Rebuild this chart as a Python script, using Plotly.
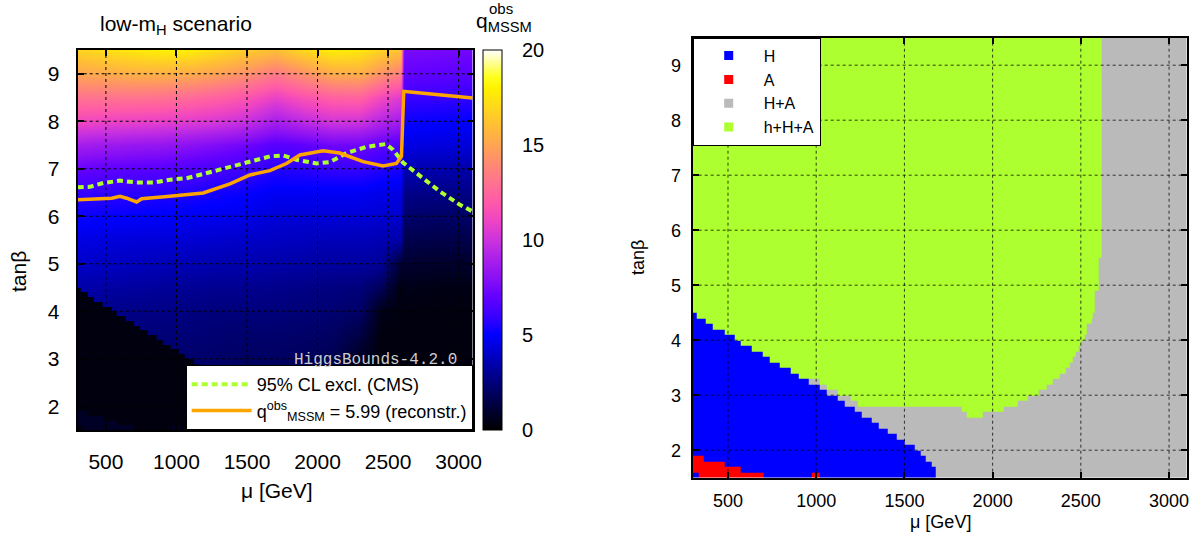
import bisect
import numpy as np
import plotly.graph_objects as go

# ---------------- left panel: q_obs field ----------------
mu_nodes = [300, 500, 700, 900, 1100, 1300, 1500, 1700, 1900, 2100, 2300, 2450, 2590, 2610, 2850, 3100]
tb_nodes = [1.5, 2.0, 2.5, 3.0, 3.5, 4.0, 4.5, 5.0, 5.5, 6.0, 6.5, 7.0, 7.5, 8.0, 8.5, 9.0, 9.5]

q_tb_1p5 = [1.7, 1.7, 1.6, 1.6, 1.6, 1.5, 1.4, 1.2, 1.0, 0.7, 0.4, 0.3, 0.3, 0.3, 0.3, 0.3]
q_tb_2p0 = [1.9, 1.9, 1.8, 1.8, 1.8, 1.7, 1.6, 1.5, 1.2, 0.9, 0.4, 0.3, 0.3, 0.3, 0.3, 0.3]
q_tb_2p5 = [2.1, 2.1, 2.0, 2.0, 2.0, 1.9, 1.8, 1.7, 1.5, 1.2, 0.5, 0.3, 0.3, 0.3, 0.3, 0.3]
q_tb_3p0 = [2.3, 2.3, 2.2, 2.2, 2.2, 2.1, 2.0, 2.0, 1.9, 1.7, 0.7, 0.3, 0.3, 0.3, 0.3, 0.3]
q_tb_3p5 = [2.6, 2.5, 2.5, 2.4, 2.4, 2.3, 2.2, 2.2, 2.1, 2.0, 1.4, 0.3, 0.3, 0.3, 0.3, 0.3]
q_tb_4p0 = [2.9, 2.8, 2.7, 2.7, 2.6, 2.5, 2.5, 2.5, 2.4, 2.3, 2.1, 0.5, 0.3, 0.3, 0.3, 0.3]
q_tb_4p5 = [3.4, 3.3, 3.2, 3.1, 3.0, 2.9, 2.9, 2.8, 2.7, 2.6, 2.5, 1.8, 0.3, 0.5, 0.4, 0.4]
q_tb_5p0 = [4.0, 3.9, 3.8, 3.7, 3.6, 3.5, 3.5, 3.4, 3.3, 3.2, 3.2, 3.1, 1.0, 1.0, 0.9, 0.9]
q_tb_5p5 = [4.5, 4.4, 4.3, 4.3, 4.2, 4.1, 4.0, 3.9, 3.8, 3.7, 3.7, 3.6, 3.4, 1.6, 1.5, 1.5]
q_tb_6p0 = [5.2, 5.1, 5.0, 4.9, 4.8, 4.7, 4.6, 4.3, 4.3, 4.3, 4.3, 4.2, 4.1, 2.2, 2.1, 2.1]
q_tb_6p5 = [5.9, 5.8, 5.7, 5.6, 5.5, 5.3, 5.1, 4.8, 4.8, 4.8, 4.8, 4.6, 4.5, 2.8, 2.7, 2.7]
q_tb_7p0 = [7.1, 6.9, 6.8, 6.7, 6.5, 6.3, 6.1, 5.6, 5.7, 5.9, 5.9, 5.6, 5.4, 3.6, 3.5, 3.4]
q_tb_7p5 = [8.8, 8.6, 8.4, 8.3, 8.0, 7.7, 7.3, 6.7, 6.9, 7.3, 7.3, 6.9, 6.5, 4.5, 4.4, 4.3]
q_tb_8p0 = [11.2, 11.0, 10.9, 10.8, 10.6, 10.3, 9.9, 8.9, 9.6, 10.2, 10.1, 9.3, 8.8, 5.2, 5.1, 5.0]
q_tb_8p5 = [13.0, 13.0, 13.0, 12.9, 12.6, 12.2, 11.7, 10.8, 11.6, 12.2, 12.3, 11.2, 10.5, 6.0, 5.9, 5.8]
q_tb_9p0 = [15.0, 15.2, 15.4, 15.4, 15.2, 14.8, 14.2, 13.3, 14.2, 15.2, 15.3, 14.3, 13.5, 7.0, 6.9, 6.8]
q_tb_9p5 = [16.8, 17.2, 17.6, 17.9, 17.8, 17.2, 16.5, 16.0, 17.0, 17.8, 17.6, 16.8, 16.2, 7.6, 7.5, 7.4]

# 95% CL exclusion (CMS) and reconstructed q = 5.99 contour
cms_mu = [300, 387, 481, 600, 718, 836, 954, 1072, 1190, 1308, 1426, 1544, 1662, 1756, 1851,
          1993, 2087, 2205, 2347, 2484, 2535, 2606, 2726, 2868, 3010, 3100]
cms_tb = [6.61, 6.62, 6.70, 6.75, 6.71, 6.71, 6.77, 6.80, 6.89, 6.98, 7.06, 7.17, 7.26, 7.28, 7.19,
          7.11, 7.14, 7.33, 7.46, 7.52, 7.40, 7.13, 6.84, 6.52, 6.24, 6.10]
rec_mu = [300, 481, 541, 600, 647, 718, 753, 954, 1190, 1379, 1521, 1662, 1733, 1780, 1875, 2040,
          2158, 2323, 2464, 2559, 2595, 2611, 2677, 2868, 3100]
rec_tb = [6.35, 6.36, 6.38, 6.42, 6.38, 6.30, 6.37, 6.42, 6.49, 6.68, 6.87, 6.96, 7.05, 7.11, 7.29, 7.38,
          7.33, 7.15, 7.06, 7.11, 7.26, 8.63, 8.61, 8.56, 8.49]

# ---------------- right panel: region boundaries ----------------
h_mu_start = [300, 321, 374, 412, 479, 538, 574, 637, 696, 738, 795, 858, 900, 959, 1018,
              1058, 1121, 1159, 1216, 1258, 1317, 1357, 1405, 1458, 1500, 1557, 1595, 1620, 1654, 1679]
h_tb_top = [4.5, 4.4, 4.3, 4.2, 4.1, 4.0, 3.9, 3.8, 3.7, 3.6, 3.5, 3.4, 3.3, 3.2, 3.1,
            3.0, 2.9, 2.8, 2.7, 2.6, 2.5, 2.4, 2.3, 2.2, 2.1, 2.0, 1.9, 1.8, 1.7, 1.5]
green_mu_start = [959, 1018, 1058, 1121, 1195, 1237, 1826, 1853, 1942, 2064, 2142, 2199, 2262, 2304,
                  2342, 2380, 2416, 2437, 2453, 2473, 2490, 2500, 2521, 2536, 2559, 2570, 2580, 2603, 2618]
green_tb_bottom = [3.3, 3.2, 3.1, 3.0, 2.9, 2.8, 2.7, 2.6, 2.7, 2.8, 2.9, 3.0, 3.1, 3.2,
                   3.3, 3.4, 3.5, 3.6, 3.7, 3.8, 3.9, 4.0, 4.1, 4.3, 4.4, 4.5, 4.9, 5.5, 9.5]
a_mu_lo = [300, 332, 363, 479, 574, 974]
a_mu_hi = [332, 363, 479, 574, 700, 1020]
a_tb_lo = [1.6, 1.5, 1.5, 1.5, 1.5, 1.5]
a_tb_hi = [1.9, 1.9, 1.8, 1.7, 1.6, 1.6]

region_names = ["H", "A", "H+A", "h+H+A"]
region_colors = ["#0000ff", "#ff0000", "#bababa", "#adff2f"]

x_ticks = [500, 1000, 1500, 2000, 2500, 3000]
y_ticks = [2, 3, 4, 5, 6, 7, 8, 9]
cbar_ticks = [0, 5, 10, 15, 20]
mu_range = [300, 3100]
tb_range = [1.5, 9.5]

# ---------------- build region table ----------------
def step_at(starts, values, x):
    i = bisect.bisect_right(starts, x) - 1
    return values[max(i, 0)]

def green_bottom_at(x):
    if x < green_mu_start[0]:
        return step_at(h_mu_start, h_tb_top, x)
    return step_at(green_mu_start, green_tb_bottom, x)

x_edges = sorted(set([mu_range[0], mu_range[1]] + h_mu_start + green_mu_start + a_mu_lo + a_mu_hi))
y_edges = sorted(set([v for v in [tb_range[0], tb_range[1]] + h_tb_top + green_tb_bottom + a_tb_lo + a_tb_hi
                      if tb_range[0] <= v <= tb_range[1]]))
xc = [(a + b) / 2 for a, b in zip(x_edges[:-1], x_edges[1:])]
yc = [(a + b) / 2 for a, b in zip(y_edges[:-1], y_edges[1:])]

region = []
for y in yc:
    row = []
    for x in xc:
        in_a = any(lo <= x < hi and tl <= y < th for lo, hi, tl, th in zip(a_mu_lo, a_mu_hi, a_tb_lo, a_tb_hi))
        if in_a:
            row.append(1)
        elif y < step_at(h_mu_start, h_tb_top, x):
            row.append(0)
        elif y > green_bottom_at(x):
            row.append(3)
        else:
            row.append(2)
    region.append(row)

# black low-q corner of the left panel coincides with the H / A regions
low_q = [[0.3 if c == 0 else (0.8 if c == 1 else None) for c in row] for row in region]

q_field = [q_tb_1p5, q_tb_2p0, q_tb_2p5, q_tb_3p0, q_tb_3p5, q_tb_4p0, q_tb_4p5, q_tb_5p0, q_tb_5p5,
           q_tb_6p0, q_tb_6p5, q_tb_7p0, q_tb_7p5, q_tb_8p0, q_tb_8p5, q_tb_9p0, q_tb_9p5]

q_colors = [
    [0.00, "#000000"], [0.05, "#000030"], [0.10, "#000062"], [0.15, "#000094"],
    [0.20, "#0000c8"], [0.25, "#0000ff"], [0.30, "#3a00ff"], [0.35, "#6200ff"],
    [0.40, "#8a10f4"], [0.45, "#aa20ea"], [0.50, "#cc33dd"], [0.55, "#ee44c4"],
    [0.60, "#ff5aa8"], [0.65, "#ff7290"], [0.70, "#ff8a72"], [0.75, "#ffa552"],
    [0.80, "#ffbe36"], [0.85, "#ffd81c"], [0.90, "#fff200"], [0.93, "#ffff20"],
    [1.00, "#ffffff"],
]
region_scale = []
for k, c in enumerate(region_colors):
    region_scale += [[k / 4, c], [(k + 1) / 4, c]]

FONT = "Liberation Sans, Arial, sans-serif"
W, H = 1203, 539

def grid_xy(xt, yt):
    gx, gy = [], []
    for t in xt:
        gx += [t, t, None]
        gy += [tb_range[0], tb_range[1], None]
    for t in yt:
        gx += [mu_range[0], mu_range[1], None]
        gy += [t, t, None]
    return gx, gy

fig = go.Figure()

# left panel
fig.add_trace(go.Heatmap(
    x=mu_nodes, y=tb_nodes, z=q_field, zmin=0, zmax=20, zsmooth="best",
    colorscale=q_colors, xaxis="x", yaxis="y", hoverinfo="skip",
    colorbar=dict(
        x=482.7 / W, xanchor="left", xpad=0, y=1 - 240 / H, yanchor="middle",
        len=380 / H, lenmode="fraction", ypad=0, thickness=19, thicknessmode="pixels",
        outlinewidth=1, outlinecolor="black",
        tickvals=cbar_ticks, ticks="outside", ticklen=16, tickcolor="rgba(0,0,0,0)",
        tickfont=dict(family=FONT, size=20, color="black"),
    ),
))
fig.add_trace(go.Heatmap(
    x=x_edges, y=y_edges, z=low_q, zmin=0, zmax=20, colorscale=q_colors,
    showscale=False, xaxis="x", yaxis="y", hoverinfo="skip",
))
gx, gy = grid_xy(x_ticks, y_ticks)
fig.add_trace(go.Scatter(x=gx, y=gy, mode="lines", xaxis="x", yaxis="y", showlegend=False,
                         hoverinfo="skip", line=dict(color="black", width=1, dash="dot")))
fig.add_trace(go.Scatter(x=cms_mu, y=cms_tb, mode="lines", xaxis="x", yaxis="y",
                         name="95% CL excl. (CMS)", legend="legend",
                         line=dict(color="#adff2f", width=4, dash="6px,4px")))
fig.add_trace(go.Scatter(x=rec_mu, y=rec_tb, mode="lines", xaxis="x", yaxis="y",
                         name="q<sup>obs</sup><sub>MSSM</sub> = 5.99 (reconstr.)", legend="legend",
                         line=dict(color="#ffa500", width=3.5)))

# right panel
fig.add_trace(go.Heatmap(
    x=x_edges, y=y_edges, z=region, zmin=-0.5, zmax=3.5, colorscale=region_scale,
    showscale=False, xaxis="x2", yaxis="y2", hoverinfo="skip",
))
gx2, gy2 = grid_xy(x_ticks, y_ticks)
fig.add_trace(go.Scatter(x=gx2, y=gy2, mode="lines", xaxis="x2", yaxis="y2", showlegend=False,
                         hoverinfo="skip", line=dict(color="rgba(0,0,0,0.75)", width=1, dash="dot")))
for name, col in zip(region_names, region_colors):
    fig.add_trace(go.Scatter(x=[None], y=[None], mode="markers", name=name, legend="legend2",
                             xaxis="x2", yaxis="y2",
                             marker=dict(symbol="square", size=9, color=col)))

axis_common = dict(
    showgrid=False, zeroline=False, showline=True, linecolor="black", linewidth=2,
    mirror="ticks", ticks="inside", ticklen=6, tickwidth=1.5, tickcolor="black",
    layer="above traces", automargin=False,
)

fig.update_layout(
    template="none",
    width=W, height=H, margin=dict(l=0, r=0, t=0, b=0, pad=0), autosize=False,
    paper_bgcolor="white", plot_bgcolor="white",
    font=dict(family=FONT, color="black"),
    xaxis=dict(domain=[77.7 / W, 472.7 / W], range=mu_range, anchor="y", tickvals=x_ticks,
               tickfont=dict(size=21), ticklabelstandoff=12, **axis_common),
    yaxis=dict(domain=[1 - 430 / H, 1 - 50 / H], range=tb_range, anchor="x", tickvals=y_ticks,
               tickfont=dict(size=21), ticklabelstandoff=12, **axis_common),
    xaxis2=dict(domain=[692.7 / W, 1186.7 / W], range=mu_range, anchor="y2", tickvals=x_ticks,
                tickfont=dict(size=18), ticklabelstandoff=6, **axis_common),
    yaxis2=dict(domain=[1 - 477.7 / H, 1 - 37.7 / H], range=tb_range, anchor="x2", tickvals=y_ticks,
                tickfont=dict(size=18), ticklabelstandoff=6, **axis_common),
    legend=dict(x=472.7 / W, xanchor="right", y=1 - 430 / H, yanchor="bottom",
                bgcolor="white", bordercolor="black", borderwidth=1,
                font=dict(family=FONT, size=18), itemwidth=60, tracegroupgap=0),
    legend2=dict(x=692.7 / W, xanchor="left", y=1 - 37.7 / H, yanchor="top",
                 bgcolor="white", bordercolor="black", borderwidth=1,
                 font=dict(family=FONT, size=16), itemwidth=60, tracegroupgap=0),
)

ann = [
    dict(text="low-m<sub>H</sub> scenario", x=176 / W, y=1 - 25 / H, font=dict(size=21)),
    dict(text="q<sub>MSSM</sub>", x=474 / W, y=1 - 22 / H, xanchor="left", font=dict(size=21)),
    dict(text="obs", x=487 / W, y=1 - 8 / H, xanchor="left", font=dict(size=15)),
    dict(text="μ [GeV]", x=277 / W, y=1 - 490 / H, font=dict(size=21)),
    dict(text="tanβ", x=18 / W, y=1 - 272 / H, textangle=-90, font=dict(size=21)),
    dict(text="μ [GeV]", x=941 / W, y=1 - 522 / H, font=dict(size=18)),
    dict(text="tanβ", x=638 / W, y=1 - 258 / H, textangle=-90, font=dict(size=18)),
]
for a in ann:
    a.setdefault("xanchor", "center")
    fig.add_annotation(xref="paper", yref="paper", yanchor="middle", showarrow=False, **a)

fig.add_annotation(text="HiggsBounds-4.2.0", x=3000, y=2.97, xref="x", yref="y",
                   xanchor="right", yanchor="middle", showarrow=False,
                   font=dict(family="Liberation Mono, DejaVu Sans Mono, monospace", size=16, color="#cccccc"))

fig.write_html("out.html", config={"displayModeBar": False},
               post_script="document.body.style.margin='0px';document.body.style.overflow='hidden';")
